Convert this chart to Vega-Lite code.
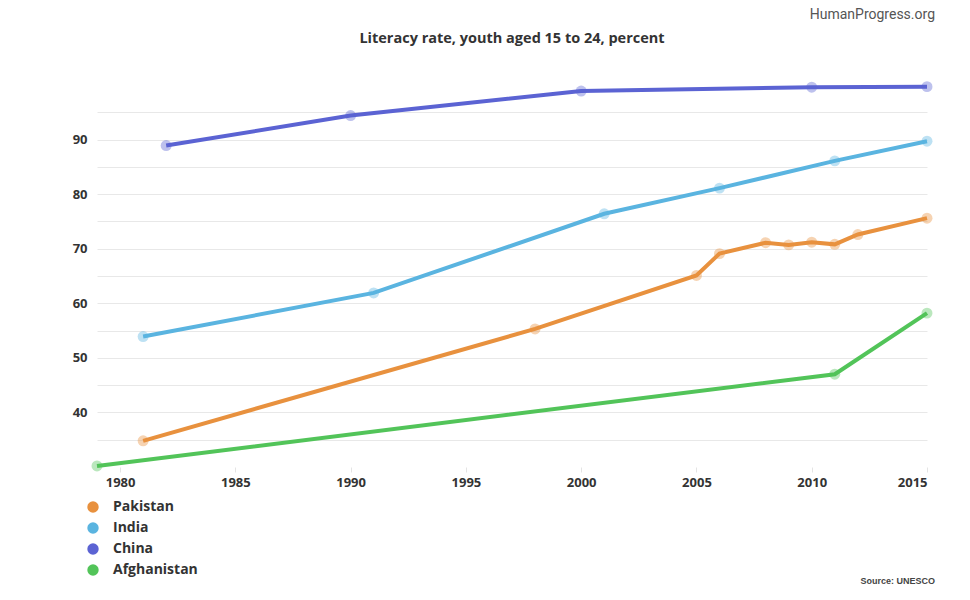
{
  "$schema": "https://vega.github.io/schema/vega-lite/v6.json",
  "width": 830,
  "height": 382,
  "autosize": {"type": "none"},
  "padding": {"left": 97, "top": 85, "right": 43, "bottom": 133},
  "background": "white",
  "title": {
    "text": "Literacy rate, youth aged 15 to 24, percent",
    "anchor": "middle",
    "font": "Open Sans",
    "fontSize": 14.5,
    "fontWeight": "bold",
    "color": "#333333",
    "offset": -38
  },
  "config": {
    "view": {"stroke": null},
    "font": "Open Sans"
  },
  "datasets": {
    "series": [
      {"country": "China", "year": 1982, "rate": 88.9},
      {"country": "China", "year": 1990, "rate": 94.4},
      {"country": "China", "year": 2000, "rate": 98.9},
      {"country": "China", "year": 2010, "rate": 99.6},
      {"country": "China", "year": 2015, "rate": 99.7},
      {"country": "India", "year": 1981, "rate": 53.9},
      {"country": "India", "year": 1991, "rate": 61.9},
      {"country": "India", "year": 2001, "rate": 76.4},
      {"country": "India", "year": 2006, "rate": 81.1},
      {"country": "India", "year": 2011, "rate": 86.1},
      {"country": "India", "year": 2015, "rate": 89.7},
      {"country": "Pakistan", "year": 1981, "rate": 34.8},
      {"country": "Pakistan", "year": 1998, "rate": 55.3},
      {"country": "Pakistan", "year": 2005, "rate": 65.1},
      {"country": "Pakistan", "year": 2006, "rate": 69.1},
      {"country": "Pakistan", "year": 2008, "rate": 71.1},
      {"country": "Pakistan", "year": 2009, "rate": 70.7},
      {"country": "Pakistan", "year": 2010, "rate": 71.2},
      {"country": "Pakistan", "year": 2011, "rate": 70.8},
      {"country": "Pakistan", "year": 2012, "rate": 72.6},
      {"country": "Pakistan", "year": 2015, "rate": 75.6},
      {"country": "Afghanistan", "year": 1979, "rate": 30.2},
      {"country": "Afghanistan", "year": 2011, "rate": 47.0},
      {"country": "Afghanistan", "year": 2015, "rate": 58.2}
    ],
    "notes": [
      {"label": "HumanProgress.org", "year": 2015, "rate": 100, "kind": "brand"},
      {"label": "Source: UNESCO", "year": 2015, "rate": 30, "kind": "source"}
    ]
  },
  "layer": [
    {
      "data": {"name": "series"},
      "mark": {"type": "line", "strokeWidth": 4},
      "encoding": {
        "x": {
          "field": "year", "type": "quantitative",
          "scale": {"domain": [1979, 2015], "nice": false, "zero": false},
          "axis": {
            "title": null,
            "values": [1980, 1985, 1990, 1995, 2000, 2005, 2010, 2015],
            "tickCount": 20,
            "format": "d",
            "grid": false,
            "domain": false,
            "ticks": true,
            "tickSize": 5,
            "tickColor": "#e4e4e4",
            "labelPadding": 4,
            "labelFont": "Open Sans",
            "labelFontSize": 13,
            "labelFontWeight": "bold",
            "labelColor": "#333333"
          }
        },
        "y": {
          "field": "rate", "type": "quantitative",
          "scale": {"domain": [30, 100], "nice": false, "zero": false},
          "axis": {
            "title": null,
            "values": [35, 40, 45, 50, 55, 60, 65, 70, 75, 80, 85, 90, 95],
            "tickCount": 20,
            "format": "d",
            "labelOverlap": false,
            "labelColor": {"condition": {"test": "datum.value % 10 === 0", "value": "#333333"}, "value": "transparent"},
            "grid": true,
            "gridColor": "#e8e8e8",
            "gridWidth": 1,
            "domain": false,
            "ticks": false,
            "labelPadding": 10,
            "labelFont": "Open Sans",
            "labelFontSize": 13,
            "labelFontWeight": "bold"
          }
        },
        "color": {
          "field": "country", "type": "nominal",
          "scale": {
            "domain": ["Pakistan", "India", "China", "Afghanistan"],
            "range": ["#e8913e", "#5ab4e0", "#5b63d3", "#52c459"]
          },
          "legend": {
            "title": null,
            "orient": "none",
            "legendX": -11,
            "legendY": 415,
            "symbolType": "circle",
            "symbolSize": 130,
            "symbolStrokeWidth": 0,
            "symbolOpacity": 1,
            "labelFont": "Open Sans",
            "labelFontSize": 14,
            "labelFontWeight": "bold",
            "labelColor": "#333333",
            "labelOffset": 13,
            "rowPadding": 7,
            "padding": 0
          }
        }
      }
    },
    {
      "data": {"name": "series"},
      "mark": {"type": "circle", "size": 120, "opacity": 0.4},
      "encoding": {
        "x": {"field": "year", "type": "quantitative"},
        "y": {"field": "rate", "type": "quantitative"},
        "color": {"field": "country", "type": "nominal", "legend": null}
      }
    },
    {
      "data": {"name": "notes"},
      "transform": [{"filter": "datum.kind === 'brand'"}],
      "mark": {"type": "text", "align": "right", "baseline": "top", "dx": 8, "dy": -77, "font": "Roboto", "fontSize": 14, "color": "#555555"},
      "encoding": {
        "x": {"field": "year", "type": "quantitative"},
        "y": {"field": "rate", "type": "quantitative"},
        "text": {"field": "label"}
      }
    },
    {
      "data": {"name": "notes"},
      "transform": [{"filter": "datum.kind === 'source'"}],
      "mark": {"type": "text", "align": "right", "baseline": "middle", "dx": 8, "dy": 114, "font": "Liberation Sans", "fontSize": 9, "fontWeight": "bold", "color": "#444444"},
      "encoding": {
        "x": {"field": "year", "type": "quantitative"},
        "y": {"field": "rate", "type": "quantitative"},
        "text": {"field": "label"}
      }
    }
  ]
}
